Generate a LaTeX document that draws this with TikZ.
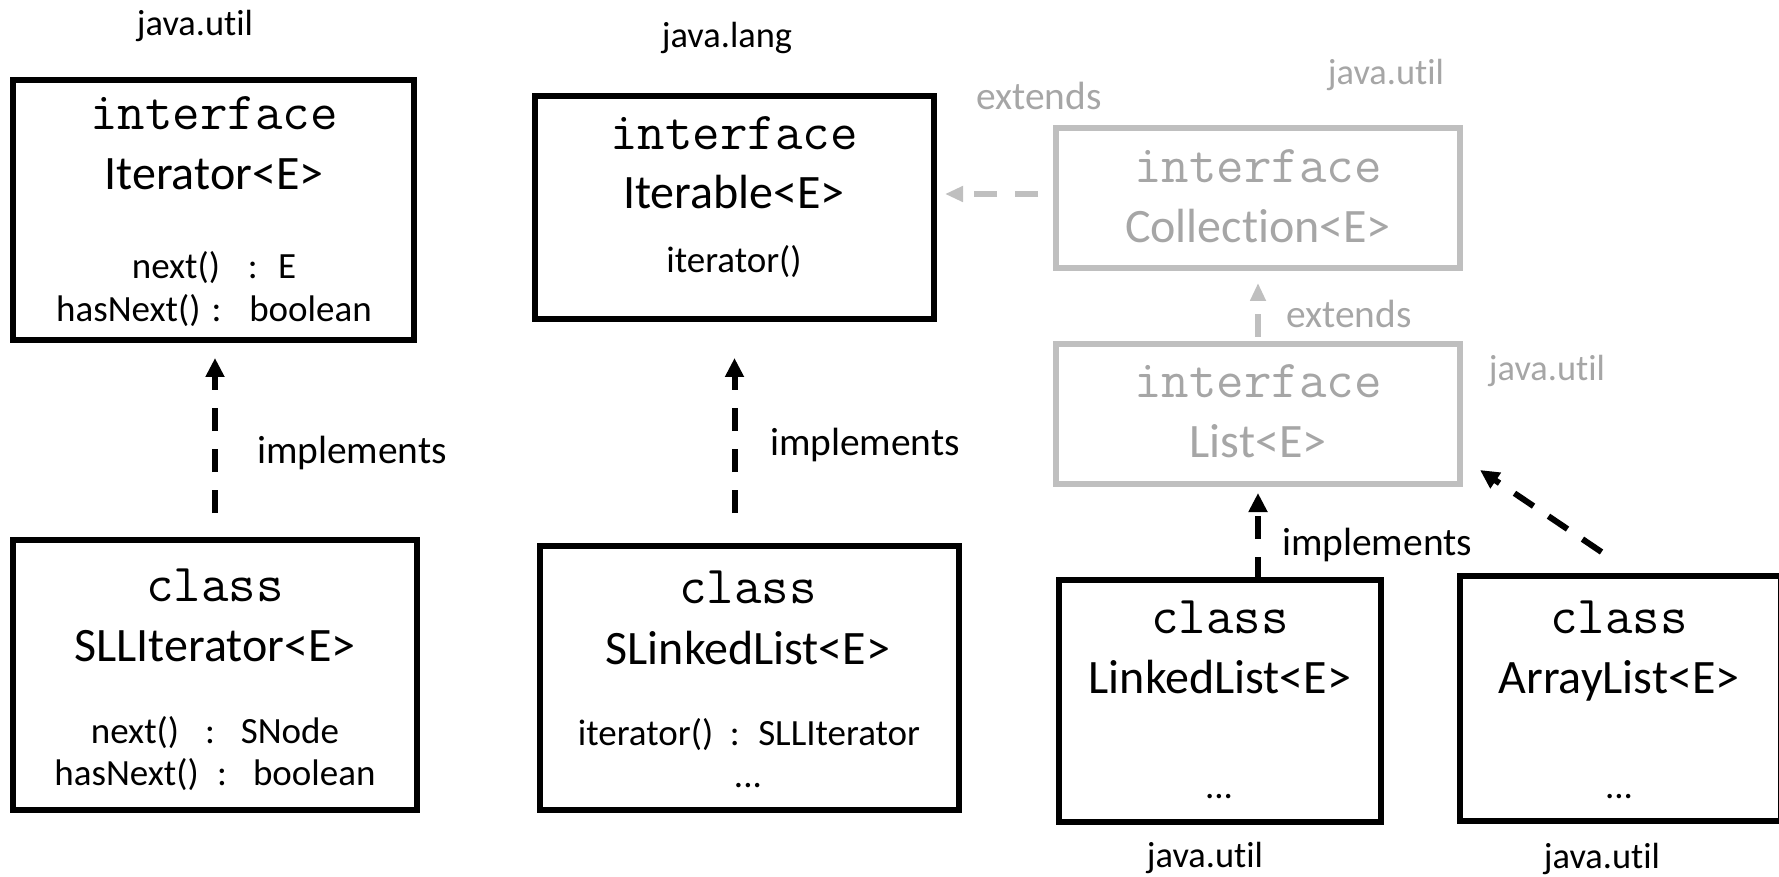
\documentclass[tikz,border=0pt]{standalone}
\usepackage{fontspec}
\setmainfont{Carlito}[Ligatures=NoCommon]
\usetikzlibrary{arrows.meta,calc}
\definecolor{faded}{HTML}{BFBFBF}
\definecolor{fadedtext}{HTML}{A6A6A6}

\begin{document}
\begin{tikzpicture}[x=0.5pt,y=-0.5pt,
  umlbox/.style={draw=black, line width=3pt, rectangle, inner sep=0pt, outer sep=0pt},
  ghostbox/.style={umlbox, draw=faded, line width=2.8pt},
  kw/.style={anchor=base, inner sep=0pt, font=\ttfamily\fontsize{26.7}{30}\selectfont},
  tname/.style={anchor=base, inner sep=0pt, font=\fontsize{24}{28}\selectfont},
  member/.style={anchor=base, inner sep=0pt, font=\fontsize{18.5}{22}\selectfont},
  pkg/.style={anchor=base, inner sep=0pt, font=\fontsize{18.2}{22}\selectfont},
  rel/.style={anchor=base, inner sep=0pt, font=\fontsize{19.7}{23}\selectfont},
  ghost/.style={text=fadedtext},
  impl/.style={draw=black, line width=3pt, dash pattern=on 11.5pt off 9pt,
    -{Triangle[length=9.5pt,width=9pt]}},
  ext/.style={draw=faded, line width=2.8pt, dash pattern=on 11.5pt off 9pt,
    -{Triangle[length=9pt,width=7.5pt]}}
]
\useasboundingbox (0,0) rectangle (1779,877);

% ---- boxes ----
\node[umlbox, minimum width=200.5pt, minimum height=130pt] (iter) at (213.5,210) {};
\node[umlbox, minimum width=199.5pt, minimum height=111.5pt] (iterable) at (734.5,207.5) {};
\node[ghostbox, minimum width=202pt, minimum height=70pt] (coll) at (1258,198) {};
\node[ghostbox, minimum width=202pt, minimum height=70pt] (list) at (1258,414) {};
\node[umlbox, minimum width=202pt, minimum height=135pt] (sll) at (215,675) {};
\node[umlbox, minimum width=209.5pt, minimum height=132pt] (slinked) at (749.5,678) {};
\node[umlbox, minimum width=161pt, minimum height=121pt] (linked) at (1220,701) {};
\node[umlbox, minimum width=160.5pt, minimum height=122.5pt] (alist) at (1620.5,698.5) {};

% ---- Iterator ----
\node[pkg] (pkgiter) at (195,36) {java.util};
\node[kw] (kwiter) at (214,130) {interface};
\node[tname] (nmiter) at (214,190) {Iterator<E>};
\node[member] (m1iter) at (214,279) {next()\hspace{0.75em}:\hspace{0.55em}E};
\node[member] (m2iter) at (214,322) {hasNext()\hspace{0.3em}:\hspace{0.75em}boolean};

% ---- Iterable ----
\node[pkg] (pkgiterable) at (727,48) {java.lang};
\node[kw] (kwiterable) at (734,150) {interface};
\node[tname] (nmiterable) at (734,209) {Iterable<E>};
\node[member] (m1iterable) at (734,273) {iterator()};

% ---- Collection ----
\node[pkg, ghost] (pkgcoll) at (1386,85) {java.util};
\node[kw, ghost] (kwcoll) at (1258,183) {interface};
\node[tname, ghost] (nmcoll) at (1258,243) {Collection<E>};
\node[rel, ghost] (extcoll) at (1039,110) {extends};

% ---- List ----
\node[kw, ghost] (kwlist) at (1258,398) {interface};
\node[tname, ghost] (nmlist) at (1258,458) {List<E>};
\node[rel, ghost] (extlist) at (1349,328) {extends};
\node[pkg, ghost] (pkglist) at (1547,380) {java.util};

% ---- SLLIterator ----
\node[kw] (kwsll) at (215,601) {class};
\node[tname] (nmsll) at (215,661) {SLLIterator<E>};
\node[member] (m1sll) at (215,743) {next()\hspace{0.7em}:\hspace{0.7em}SNode};
\node[member] (m2sll) at (215,785) {hasNext()\hspace{0.5em}:\hspace{0.7em}boolean};
\node[rel] (implsll) at (352,463) {implements};

% ---- SLinkedList ----
\node[kw] (kwslinked) at (748,603) {class};
\node[tname] (nmslinked) at (748,664) {SLinkedList<E>};
\node[member] (m1slinked) at (749,745) {iterator()\hspace{0.45em}:\hspace{0.5em}SLLIterator};
\node[member] (m2slinked) at (748,787) {...};
\node[rel] (implslinked) at (865,455) {implements};

% ---- LinkedList ----
\node[kw] (kwlinked) at (1220,633) {class};
\node[tname] (nmlinked) at (1220,693) {LinkedList<E>};
\node[member] (m1linked) at (1219,798) {...};
\node[pkg] (pkglinked) at (1205,867) {java.util};
\node[rel] (impllinked) at (1377,555) {implements};

% ---- ArrayList ----
\node[kw] (kwalist) at (1619,633) {class};
\node[tname] (nmalist) at (1619,693) {ArrayList<E>};
\node[member] (m1alist) at (1619,798) {...};
\node[pkg] (pkgalist) at (1602,868) {java.util};

% ---- relations ----
\draw[impl, shorten <=13.5pt, shorten >=9pt] (sll.north) -- (sll.north |- iter.south);
\draw[impl, shorten <=16.5pt, shorten >=19.5pt] (iterable.south |- slinked.north) -- (iterable.south);
\draw[impl, shorten >=4.5pt] (list.south |- linked.north) -- (list.south);
\coordinate (altail) at ($(alist.north)+(-19,-24)$);
\coordinate (alhead) at ($(list.south east)+(20,-14)$);
\draw[impl] (altail) -- (alhead);
\draw[ext, shorten <=3.5pt, shorten >=7.5pt] (list.north) -- (coll.south);
\draw[ext, shorten <=9pt, shorten >=5.5pt] ([yshift=2pt]coll.west) -- ([yshift=2pt]coll.west -| iterable.east);
\end{tikzpicture}
\end{document}
